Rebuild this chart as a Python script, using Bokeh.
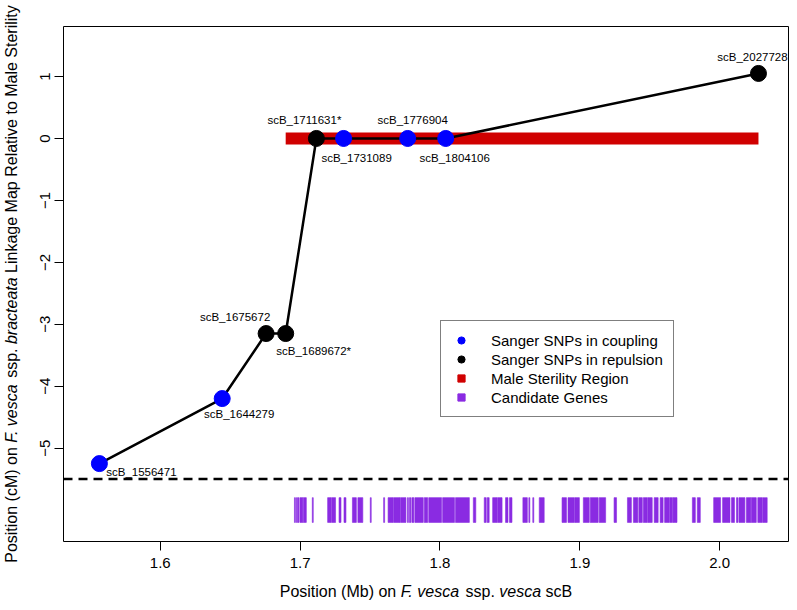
import math
from bokeh.plotting import figure
from bokeh.layouts import row, column
from bokeh.models import (Range1d, ColumnDataSource, LabelSet, Label, Legend, LegendItem,
                          FixedTicker, Span)
from bokeh.core.properties import value
from bokeh.embed import file_html
from bokeh.resources import INLINE

# ---------------- data ----------------
snp_names = ["scB_1556471", "scB_1644279", "scB_1675672", "scB_1689672*", "scB_1711631*",
             "scB_1731089", "scB_1776904", "scB_1804106", "scB_2027728"]
snp_mb = [1.556471, 1.644279, 1.675672, 1.689672, 1.711631, 1.731089, 1.776904, 1.804106, 2.027728]
snp_cm = [-5.25, -4.20, -3.15, -3.15, 0.0, 0.0, 0.0, 0.0, 1.05]
snp_phase = ["coupling", "coupling", "repulsion", "repulsion", "repulsion",
             "coupling", "coupling", "coupling", "repulsion"]

msr_start_mb = 1.689672
msr_end_mb = 2.027728
msr_cm = 0.0
ms_boundary_cm = -5.5

gene_start_mb = [1.69592, 1.69734, 1.69840, 1.69982, 1.70230, 1.70868, 1.71966, 1.72250,
                 1.72781, 1.73136, 1.73738, 1.74128, 1.75014, 1.75970, 1.76289, 1.76679,
                 1.77175, 1.77671, 1.77813, 1.77990, 1.78203, 1.78876, 1.79195, 1.80187,
                 1.81108, 1.82384, 1.83163, 1.83376, 1.83766, 1.84120, 1.84687, 1.84971,
                 1.85927, 1.86353, 1.86636, 1.87097, 1.88727, 1.89152, 1.89648, 1.90250,
                 1.90746, 1.91384, 1.92447, 1.93404, 1.93829, 1.94219, 1.94538, 1.94857,
                 1.95317, 1.95742, 1.96061, 1.96416, 1.96664, 1.98045, 1.98400, 1.99569,
                 2.00207, 2.00845, 2.01199, 2.01376, 2.01908, 2.02262, 2.02723, 2.03077]
gene_end_mb = [1.69663, 1.69805, 1.69911, 1.70195, 1.70443, 1.70939, 1.72214, 1.72533,
               1.72923, 1.73277, 1.74021, 1.74482, 1.75084, 1.76041, 1.76644, 1.77140,
               1.77565, 1.77742, 1.77919, 1.78132, 1.78805, 1.79124, 1.80116, 1.81037,
               1.82100, 1.82561, 1.83305, 1.83518, 1.84085, 1.84439, 1.84864, 1.85148,
               1.86246, 1.86423, 1.86707, 1.87451, 1.89045, 1.89612, 1.89967, 1.90675,
               1.91313, 1.91845, 1.92624, 1.93687, 1.94148, 1.94467, 1.94821, 1.95176,
               1.95601, 1.95955, 1.96380, 1.96628, 1.96947, 1.98258, 1.98613, 2.00065,
               2.00739, 2.01058, 2.01306, 2.01802, 2.02227, 2.02617, 2.03042, 2.03396]
gene_track_bottom_cm = -6.2
gene_track_top_cm = -5.8

x_limits = [1.55, 2.03]
y_limits = [-6.2, 1.5]
x_ticks = [1.6, 1.7, 1.8, 1.9, 2.0]
x_tick_labels = ["1.6", "1.7", "1.8", "1.9", "2.0"]
y_ticks = [-5, -4, -3, -2, -1, 0, 1]
y_tick_labels = ["\u22125", "\u22124", "\u22123", "\u22122", "\u22121", "0", "1"]

legend_labels = ["Sanger SNPs in coupling", "Sanger SNPs in repulsion",
                 "Male Sterility Region", "Candidate Genes"]

x_title_pieces = [("Position (Mb) on ", "normal"), ("F. vesca", "italic"), (" ssp. ", "normal"),
                  ("vesca", "italic"), (" scB", "normal")]
y_title_pieces = [("Position (cM) on ", "normal"), ("F. vesca", "italic"), (" ssp. ", "normal"),
                  ("bracteata", "italic"), (" Linkage Map Relative to Male Sterility", "normal")]

# ---------------- style ----------------
FONT = "Liberation Sans"
BLUE = "#0000FF"
BLACK = "#000000"
RED = "#D00000"
PURPLE = "#8A2BE2"

# label offsets in screen pixels (x right, y up)
label_dx = [42, 17, -31, 28, -12, 13, 5, 9, -6]
label_dy = [-8, -15, 17, -17, 18, -20, 18, -20, 16]

TOTAL_W, TOTAL_H = 789, 602
YT_W = 22                    # strip holding the y-axis title
XT_H = 23                    # strip holding the x-axis title
W, H = TOTAL_W - YT_W, TOTAL_H - XT_H
ML, MR, MT, MB = 41, 1, 26, 38
frame_w = W - ML - MR
frame_h = H - MT - MB

def padded(lim):
    pad = 0.04 * (lim[1] - lim[0])
    return Range1d(lim[0] - pad, lim[1] + pad)

p = figure(width=W, height=H, x_range=padded(x_limits), y_range=padded(y_limits),
           output_backend="svg", toolbar_location=None,
           min_border_left=ML, min_border_right=MR, min_border_top=MT, min_border_bottom=MB)
p.xgrid.visible = False
p.ygrid.visible = False
p.outline_line_color = BLACK
p.outline_line_width = 1
p.background_fill_color = "white"
p.border_fill_color = "white"

for ax, ticks, labels in ((p.xaxis[0], x_ticks, x_tick_labels), (p.yaxis[0], y_ticks, y_tick_labels)):
    ax.ticker = FixedTicker(ticks=ticks)
    ax.major_label_overrides = {t: l for t, l in zip(ticks, labels)}
    ax.axis_line_color = None
    ax.major_tick_out = 9
    ax.major_tick_in = 0
    ax.minor_tick_out = 0
    ax.minor_tick_in = 0
    ax.major_tick_line_color = BLACK
    ax.major_label_text_font = FONT
    ax.major_label_text_font_size = "15px"
    ax.major_label_text_color = BLACK
p.xaxis[0].major_label_standoff = 7
p.yaxis[0].major_label_standoff = 4
p.yaxis[0].major_label_orientation = "vertical"

# male sterility region
msr_src = ColumnDataSource(dict(x0=[msr_start_mb], x1=[msr_end_mb], y=[msr_cm]))
p.segment(x0="x0", y0="y", x1="x1", y1="y", source=msr_src, line_color=RED,
          line_width=12, line_cap="butt")

# candidate genes
n_genes = len(gene_start_mb)
gene_src = ColumnDataSource(dict(left=gene_start_mb, right=gene_end_mb,
                                 bottom=[gene_track_bottom_cm] * n_genes,
                                 top=[gene_track_top_cm] * n_genes))
p.quad(left="left", right="right", bottom="bottom", top="top", source=gene_src,
       fill_color=PURPLE, line_color=PURPLE, line_width=0.6)

# boundary
p.add_layout(Span(location=ms_boundary_cm, dimension="width", line_color=BLACK,
                  line_width=2.5, line_dash="9 6"))

# linkage line and SNPs
all_src = ColumnDataSource(dict(x=snp_mb, y=snp_cm, name=snp_names, dx=label_dx, dy=label_dy))
p.line(x="x", y="y", source=all_src, line_color=BLACK, line_width=2.5)

def subset(phase):
    idx = [i for i, ph in enumerate(snp_phase) if ph == phase]
    return ColumnDataSource(dict(x=[snp_mb[i] for i in idx], y=[snp_cm[i] for i in idx]))

r_c = p.scatter(x="x", y="y", source=subset("coupling"), size=16, marker="circle",
                fill_color=BLUE, line_color=BLUE)
r_r = p.scatter(x="x", y="y", source=subset("repulsion"), size=16, marker="circle",
                fill_color=BLACK, line_color=BLACK)

p.add_layout(LabelSet(x="x", y="y", text="name", source=all_src, x_offset="dx", y_offset="dy",
                      text_font=value(FONT), text_font_size="11.5px", text_color=BLACK,
                      text_align="center", text_baseline="middle"))

# legend proxies (hidden square markers carrying the region / gene data)
r_m = p.scatter(x="x0", y="y", source=msr_src, marker="square", fill_color=RED, line_color=RED)
r_m.visible = False
r_g = p.scatter(x="left", y="top", source=gene_src, marker="square", fill_color=PURPLE, line_color=PURPLE)
r_g.visible = False

legend = Legend(items=[LegendItem(label=l, renderers=[r]) for l, r in zip(legend_labels, [r_c, r_r, r_m, r_g])],
                location=(377, 124), orientation="vertical",
                border_line_color=BLACK, border_line_width=1, background_fill_color="white",
                background_fill_alpha=1.0, padding=10, spacing=1, margin=0,
                glyph_width=20, glyph_height=18, label_height=18, label_standoff=20,
                label_text_font=FONT, label_text_font_size="15px", label_text_color=BLACK,
                inactive_fill_alpha=0.0)
p.add_layout(legend)

# ---------------- axis titles (mixed roman / italic) ----------------
ARIAL_W = {' ': 278, '(': 333, ')': 333, '.': 278, '*': 389, '_': 556, 'A': 667, 'B': 667,
           'C': 722, 'F': 611, 'L': 556, 'M': 833, 'P': 667, 'R': 722, 'S': 667, 'a': 556,
           'b': 556, 'c': 500, 'e': 556, 'g': 556, 'i': 222, 'k': 500, 'l': 222, 'n': 556,
           'o': 556, 'p': 556, 'r': 333, 's': 500, 't': 278, 'u': 556, 'v': 500, 'y': 500}

def tw(s, size):
    return sum(ARIAL_W.get(ch, 556) for ch in s) / 1000.0 * size

def strip_fig(width, height):
    f = figure(width=width, height=height, x_range=Range1d(0, 1), y_range=Range1d(0, 1),
               output_backend="svg", toolbar_location=None,
               x_axis_location=None, y_axis_location=None, min_border=0)
    f.outline_line_color = None
    f.background_fill_color = "white"
    f.border_fill_color = "white"
    f.grid.visible = False
    return f

def rich_title(fig, pieces, size, cx, cy, vertical):
    total = sum(tw(t, size) for t, _ in pieces)
    pos = -total / 2.0
    for t, style in pieces:
        lead = len(t) - len(t.lstrip())
        start = pos + tw(t[:lead], size)
        txt = t.strip()
        if vertical:
            lab = Label(x=cx, y=cy + start, x_units="screen", y_units="screen", text=txt,
                        angle=math.pi / 2, text_align="left", text_baseline="middle")
        else:
            lab = Label(x=cx + start, y=cy, x_units="screen", y_units="screen", text=txt,
                        text_align="left", text_baseline="middle")
        lab.text_font = FONT
        lab.text_font_size = "%.1fpx" % size
        lab.text_font_style = style
        lab.text_color = BLACK
        fig.add_layout(lab)
        pos += tw(t, size)

TITLE_SIZE = 16
ytitle = strip_fig(YT_W, TOTAL_H)
rich_title(ytitle, y_title_pieces, TITLE_SIZE, YT_W / 2.0, TOTAL_H - (MT + frame_h / 2.0), True)
xtitle = strip_fig(W, XT_H)
# the column aligns this strip's frame with the main plot's frame
rich_title(xtitle, x_title_pieces, TITLE_SIZE, frame_w / 2.0, 11, False)

layout = row(ytitle, column(p, xtitle, spacing=0), spacing=0)
open("out.html", "w").write(file_html(layout, INLINE))
